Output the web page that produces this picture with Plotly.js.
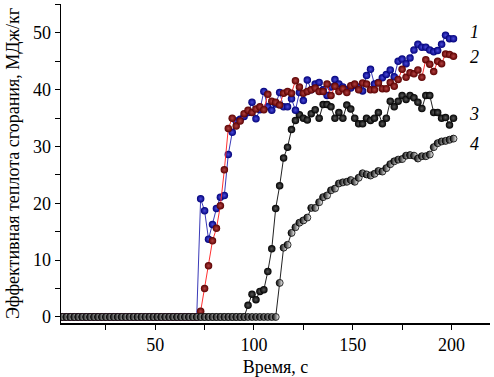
<!DOCTYPE html>
<html><head><meta charset="utf-8">
<script src="https://cdn.plot.ly/plotly-3.0.1.min.js"></script>
<style>html,body{margin:0;padding:0;background:#fff}#c{width:494px;height:377px}</style>
</head><body><div id="c"></div>
<script>
// time axis: every 2 s from 1 to 201
const time = [];
for (let t = 1; t <= 201; t += 2) time.push(t);

// Series 1 (blue): zero until 71 s, then values from 73 s
const s1Zero = 36; // number of zero points (1..71)
const s1Vals = [20.8,18.7,13.7,16.3,19.1,21.1,21.4,28.6,32.5,34.5,34.8,35.3,36.0,37.8,34.9,36.5,39.7,37.0,36.4,37.5,39.5,37.0,37.0,38.4,36.4,39.5,38.1,41.7,40.0,41.0,41.3,40.0,39.0,40.5,41.8,41.0,40.5,40.0,40.3,40.8,40.5,39.8,42.5,43.6,41.0,41.3,42.1,42.7,43.5,42.3,45.0,45.4,44.6,45.6,47.0,48.0,47.5,47.5,47.0,46.7,46.9,48.0,49.6,49.0,49.0];
// Series 2 (red)
const s2Zero = 36;
const s2Vals = [1.0,5.0,9.0,13.4,15.6,19.6,25.9,33.2,35.0,33.6,34.5,35.8,36.4,36.0,36.6,37.0,36.5,39.2,38.0,37.8,37.3,39.4,39.7,39.4,41.6,40.5,39.4,39.7,40.0,40.3,39.7,39.7,41.0,39.0,40.6,39.7,40.2,39.5,40.7,41.0,40.0,41.2,41.0,40.0,40.0,41.2,40.2,40.2,41.3,40.6,41.8,43.6,42.2,43.0,42.8,43.5,42.2,45.3,44.5,43.2,45.0,44.6,46.3,46.2,45.9];
// Series 3 (black, filled)
const s3Zero = 48; // 1..95
const s3Vals = [2.05,4.0,3.05,4.5,4.8,8.0,12.0,19.1,23.1,28.0,29.9,33.0,34.6,35.6,35.0,34.7,35.8,36.5,35.0,37.4,37.4,37.0,35.0,36.0,35.0,37.3,36.6,35.0,34.0,34.0,35.0,34.6,35.0,36.0,34.0,35.0,38.0,37.0,38.0,39.0,38.3,39.0,38.6,37.8,36.7,39.0,39.0,36.0,36.0,35.0,35.1,33.8,35.0];
// Series 4 (black, half-filled)
const s4Zero = 56; // 1..111
const s4Vals = [6.0,12.2,12.7,14.8,15.8,16.6,17.0,17.5,19.2,19.2,20.2,21.1,21.4,22.3,22.6,23.5,23.7,23.8,24.1,23.8,24.5,25.3,25.1,24.9,25.2,25.7,25.6,26.2,26.9,27.4,27.7,27.8,28.4,28.5,28.4,27.9,28.3,28.3,28.6,29.9,30.6,30.9,31.0,31.2,31.4];

const seriesLabels = ['1','2','3','4'];
const labelY = [50.2,45.7,35.8,30.5];

function full(nZero, vals){ return new Array(nZero).fill(0).concat(vals); }

const y1 = full(s1Zero, s1Vals), y2 = full(s2Zero, s2Vals), y3 = full(s3Zero, s3Vals), y4 = full(s4Zero, s4Vals);

const traces = [
  {x: time.slice(0,y3.length), y: y3, mode:'lines+markers', line:{color:'#222', width:1},
   marker:{size:7.5, color:'#000', gradient:{type:'radial', color:'#5a5a5a'}}},
  {x: time.slice(0,y1.length), y: y1, mode:'lines+markers', line:{color:'#3a3ab8', width:1},
   marker:{size:7.5, color:'#00007a', gradient:{type:'radial', color:'#4a4ad8'}}},
  {x: time.slice(0,y2.length), y: y2, mode:'lines+markers', line:{color:'#ff3030', width:1},
   marker:{size:7.5, color:'#5a0000', gradient:{type:'radial', color:'#b04040'}}},
  {x: time.slice(0,y4.length), y: y4, mode:'lines+markers', line:{color:'#222', width:1},
   marker:{size:7, color:'#000', gradient:{type:'horizontal', color:'#fff'}, line:{color:'#000', width:0.8}}}
];

const annotations = seriesLabels.map((t,i)=>({x:211.5, y:labelY[i], xref:'x', yref:'y', text:t, showarrow:false,
  font:{family:'Liberation Serif, serif', size:18, color:'#000', style:'italic'}}));

const font = {family:'Liberation Serif, Times New Roman, serif', size:18, color:'#000'};
const layout = {
  width:494, height:377, margin:{l:61, r:4, t:4, b:54},
  paper_bgcolor:'#fff', plot_bgcolor:'#fff', showlegend:false, font:font,
  xaxis:{range:[2.3,219.5], tickvals:[50,100,150,200], ticks:'outside', ticklen:5, tickwidth:1, tickcolor:'#000',
    minor:{tickvals:[25,75,125,175], ticks:'outside', ticklen:5, tickcolor:'#000'},
    showline:true, linecolor:'#000', linewidth:1.5, showgrid:false, zeroline:false,
    tickfont:font, title:{text:'Время, с', font:font, standoff:6}},
  yaxis:{range:[-1.06,55.1], tickvals:[0,10,20,30,40,50], ticks:'outside', ticklen:5, tickwidth:1, tickcolor:'#000',
    minor:{tickvals:[5,15,25,35,45,55], ticks:'outside', ticklen:5, tickcolor:'#000'},
    showline:true, linecolor:'#000', linewidth:1.5, showgrid:false, zeroline:false,
    tickfont:font, title:{text:'Эффективная теплота сгорания, МДж/кг', font:font, standoff:8}},
  annotations: annotations
};
Plotly.newPlot('c', traces, layout, {staticPlot:true});
</script></body></html>
